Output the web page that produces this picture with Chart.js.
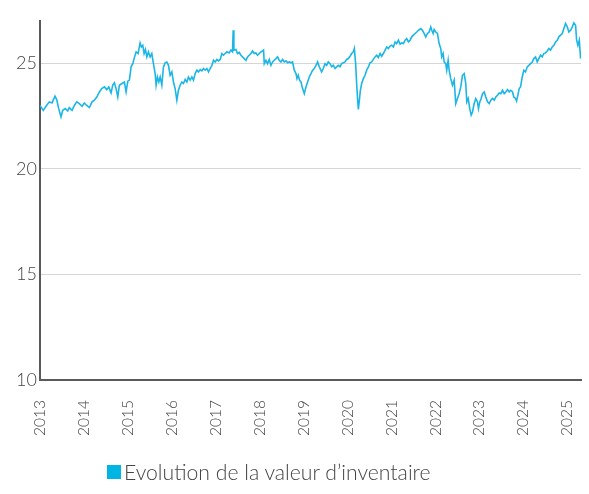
<!DOCTYPE html>
<html>
<head>
<meta charset="utf-8">
<script src="https://cdn.jsdelivr.net/npm/chart.js@4"></script>
<style>
  html, body { margin: 0; padding: 0; background: #fff; }
  #wrap { position: relative; width: 589px; height: 494px; }
  #legend {
    position: absolute; left: 107px; top: 461px;
    display: flex; align-items: center;
    font: 300 21.2px Lato, sans-serif; color: #444; line-height: 22px;
  }
  #legend .swatch { display: inline-block; width: 14px; height: 14px; margin-right: 3px; }
</style>
</head>
<body>
<div id="wrap">
  <canvas id="navChart" width="589" height="494"></canvas>
  <div id="legend"></div>
</div>
<script>
// dates en années décimales, une valeur d'inventaire par date
const dates = [
  2013.000, 2013.075, 2013.137, 2013.212, 2013.273, 2013.342, 2013.380, 2013.426, 2013.478, 2013.517,
  2013.576, 2013.631, 2013.667, 2013.729, 2013.781, 2013.836, 2013.895, 2013.957, 2014.009, 2014.064,
  2014.123, 2014.185, 2014.237, 2014.292, 2014.351, 2014.405, 2014.465, 2014.519, 2014.565, 2014.617,
  2014.656, 2014.693, 2014.731, 2014.770, 2014.806, 2014.868, 2014.920, 2014.959, 2014.998, 2015.034,
  2015.073, 2015.112, 2015.141, 2015.187, 2015.232, 2015.278, 2015.308, 2015.339, 2015.369, 2015.399,
  2015.431, 2015.467, 2015.506, 2015.544, 2015.581, 2015.620, 2015.642, 2015.672, 2015.704, 2015.734,
  2015.772, 2015.809, 2015.848, 2015.886, 2015.923, 2015.961, 2016.000, 2016.037, 2016.075, 2016.114,
  2016.150, 2016.189, 2016.228, 2016.264, 2016.303, 2016.342, 2016.378, 2016.417, 2016.456, 2016.492,
  2016.531, 2016.570, 2016.606, 2016.645, 2016.683, 2016.720, 2016.759, 2016.797, 2016.834, 2016.872,
  2016.911, 2016.948, 2016.986, 2017.025, 2017.062, 2017.100, 2017.139, 2017.175, 2017.214, 2017.253,
  2017.305, 2017.344, 2017.380, 2017.396, 2017.412, 2017.458, 2017.494, 2017.533, 2017.572, 2017.608,
  2017.647, 2017.686, 2017.722, 2017.761, 2017.800, 2017.836, 2017.875, 2017.913, 2017.950, 2017.989,
  2018.027, 2018.064, 2018.087, 2018.103, 2018.141, 2018.178, 2018.217, 2018.255, 2018.292, 2018.330,
  2018.369, 2018.406, 2018.444, 2018.483, 2018.520, 2018.558, 2018.597, 2018.634, 2018.672, 2018.711,
  2018.747, 2018.786, 2018.825, 2018.848, 2018.877, 2018.907, 2018.939, 2018.975, 2019.014, 2019.052,
  2019.089, 2019.128, 2019.166, 2019.203, 2019.241, 2019.280, 2019.317, 2019.355, 2019.408, 2019.446,
  2019.485, 2019.522, 2019.560, 2019.599, 2019.636, 2019.674, 2019.713, 2019.750, 2019.788, 2019.827,
  2019.864, 2019.902, 2019.941, 2019.977, 2020.016, 2020.055, 2020.091, 2020.130, 2020.153, 2020.182,
  2020.205, 2020.228, 2020.244, 2020.267, 2020.290, 2020.319, 2020.358, 2020.396, 2020.433, 2020.472,
  2020.510, 2020.547, 2020.585, 2020.624, 2020.661, 2020.699, 2020.738, 2020.775, 2020.813, 2020.852,
  2020.889, 2020.927, 2020.966, 2021.003, 2021.041, 2021.080, 2021.116, 2021.155, 2021.194, 2021.230,
  2021.269, 2021.308, 2021.344, 2021.383, 2021.421, 2021.458, 2021.497, 2021.535, 2021.572, 2021.610,
  2021.663, 2021.702, 2021.740, 2021.777, 2021.816, 2021.854, 2021.891, 2021.914, 2021.945, 2021.968,
  2022.005, 2022.043, 2022.082, 2022.118, 2022.141, 2022.173, 2022.196, 2022.232, 2022.255, 2022.287,
  2022.310, 2022.346, 2022.385, 2022.424, 2022.460, 2022.499, 2022.538, 2022.574, 2022.613, 2022.652,
  2022.688, 2022.711, 2022.743, 2022.779, 2022.811, 2022.841, 2022.879, 2022.916, 2022.954, 2022.977,
  2023.007, 2023.039, 2023.069, 2023.107, 2023.144, 2023.183, 2023.221, 2023.258, 2023.296, 2023.335,
  2023.371, 2023.410, 2023.449, 2023.485, 2023.524, 2023.563, 2023.599, 2023.638, 2023.676, 2023.713,
  2023.752, 2023.781, 2023.820, 2023.843, 2023.873, 2023.904, 2023.934, 2023.973, 2024.009, 2024.048,
  2024.087, 2024.123, 2024.162, 2024.201, 2024.237, 2024.276, 2024.314, 2024.351, 2024.390, 2024.428,
  2024.465, 2024.503, 2024.542, 2024.579, 2024.617, 2024.656, 2024.693, 2024.731, 2024.770, 2024.806,
  2024.845, 2024.884, 2024.920, 2024.959, 2024.998, 2025.034, 2025.073, 2025.112, 2025.148, 2025.187,
  2025.210, 2025.239, 2025.271, 2025.301
];

const nav = [
  23.00, 22.77, 22.96, 23.17, 23.12, 23.44, 23.28, 22.85, 22.46, 22.77,
  22.85, 22.74, 22.90, 22.77, 23.00, 23.17, 23.09, 22.96, 23.12, 23.00,
  22.90, 23.17, 23.25, 23.40, 23.64, 23.80, 23.88, 23.75, 23.88, 23.59,
  23.96, 24.07, 23.80, 23.40, 23.96, 24.04, 24.11, 23.64, 24.15, 24.20,
  24.83, 24.98, 25.22, 25.54, 25.46, 25.96, 25.77, 25.85, 25.46, 25.65,
  25.30, 25.54, 25.30, 25.46, 24.98, 24.51, 23.96, 24.35, 24.11, 24.35,
  23.96, 24.83, 25.02, 25.06, 24.90, 24.43, 24.59, 24.11, 23.80, 23.25,
  23.72, 23.96, 24.11, 24.04, 24.23, 24.11, 24.35, 24.20, 24.35, 24.20,
  24.51, 24.67, 24.59, 24.70, 24.64, 24.75, 24.67, 24.75, 24.59, 24.75,
  24.90, 25.14, 25.06, 25.18, 25.11, 25.18, 25.46, 25.38, 25.46, 25.54,
  25.49, 25.62, 25.54, 26.56, 25.62, 25.65, 25.46, 25.51, 25.38, 25.30,
  25.22, 25.14, 25.30, 25.38, 25.46, 25.58, 25.46, 25.49, 25.38, 25.46,
  25.54, 25.58, 25.62, 24.98, 25.14, 24.98, 25.18, 24.90, 25.06, 25.14,
  25.22, 25.30, 25.14, 25.06, 25.18, 25.06, 25.11, 25.02, 25.06, 25.02,
  25.06, 24.67, 24.51, 24.27, 24.43, 24.20, 24.11, 23.80, 23.56, 23.88,
  24.11, 24.35, 24.51, 24.67, 24.75, 24.90, 25.06, 24.83, 24.59, 24.75,
  24.98, 24.90, 25.06, 24.98, 24.83, 24.90, 24.75, 24.83, 24.90, 24.83,
  24.98, 25.02, 25.06, 25.18, 25.22, 25.33, 25.46, 25.54, 25.70, 24.98,
  24.04, 23.25, 22.81, 23.25, 23.72, 24.04, 24.27, 24.43, 24.67, 24.83,
  25.02, 25.06, 25.18, 25.30, 25.38, 25.27, 25.46, 25.33, 25.46, 25.62,
  25.77, 25.70, 25.81, 25.85, 25.77, 26.01, 25.93, 26.09, 25.90, 25.96,
  25.93, 26.09, 26.17, 26.01, 26.09, 26.25, 26.33, 26.41, 26.48, 26.56,
  26.64, 26.56, 26.41, 26.25, 26.41, 26.48, 26.72, 26.56, 26.41, 26.60,
  26.48, 26.41, 25.93, 25.70, 25.30, 25.46, 25.06, 24.98, 24.67, 25.14,
  24.67, 24.27, 23.96, 24.20, 23.09, 23.33, 23.56, 23.88, 24.43, 24.51,
  24.04, 23.17, 23.33, 22.85, 22.54, 22.69, 23.09, 23.33, 23.17, 22.85,
  23.17, 23.33, 23.56, 23.64, 23.40, 23.17, 23.09, 23.25, 23.33, 23.25,
  23.40, 23.48, 23.59, 23.56, 23.72, 23.56, 23.64, 23.75, 23.64, 23.72,
  23.64, 23.40, 23.33, 23.21, 23.48, 23.80, 23.88, 24.35, 24.67, 24.59,
  24.83, 24.90, 24.98, 25.06, 25.22, 25.30, 25.06, 25.22, 25.38, 25.30,
  25.46, 25.49, 25.58, 25.70, 25.62, 25.77, 25.85, 26.01, 26.09, 26.25,
  26.33, 26.41, 26.64, 26.88, 26.72, 26.48, 26.56, 26.72, 26.91, 26.80,
  26.09, 25.85, 26.09, 25.22
];

const seriesLabel = 'Evolution de la valeur d’inventaire';
const xRange = [2013, 2025.31];
const yRange = [10, 27];
const yStep = 5;

const lineColor = '#1bb6e6';
const axisColor = '#5a5a5a';
const textColor = '#444';
const fontFamily = 'Lato, "Open Sans", sans-serif';

const points = dates.map((d, i) => ({ x: d, y: nav[i] }));

const ctx = document.getElementById('navChart').getContext('2d');
const navChart = new Chart(ctx, {
  type: 'line',
  data: {
    datasets: [{
      label: seriesLabel,
      data: points,
      borderColor: lineColor,
      backgroundColor: '#00b4e4',
      borderWidth: 1.6,
      pointRadius: 0,
      tension: 0
    }]
  },
  options: {
    responsive: false,
    animation: false,
    layout: { padding: { top: 21, right: 8, bottom: 54, left: 0 } },
    scales: {
      x: {
        type: 'linear',
        min: xRange[0],
        max: xRange[1],
        grid: { color: 'transparent', drawTicks: false },
        border: { color: axisColor, width: 2 },
        ticks: {
          stepSize: 1,
          includeBounds: false,
          autoSkip: false,
          minRotation: 90,
          maxRotation: 90,
          padding: 20,
          color: textColor,
          font: { family: fontFamily, size: 15.5, weight: 300 },
          callback: (v) => String(v)
        },
        afterFit: (s) => {
          s.height = 60;
          s.paddingLeft = 0;
          s.paddingRight = 0;
        }
      },
      y: {
        min: yRange[0],
        max: yRange[1],
        grid: { color: '#d6d6d6', lineWidth: 1, drawTicks: false },
        border: { color: axisColor, width: 2 },
        ticks: {
          stepSize: yStep,
          includeBounds: false,
          padding: 3,
          color: textColor,
          font: { family: fontFamily, size: 18, weight: 300 }
        },
        afterFit: (s) => { s.width = 40; }
      }
    },
    plugins: {
      legend: { display: false },
      tooltip: { enabled: false }
    }
  }
});

// légende HTML sous le graphique
function renderLegend(chart) {
  const box = document.getElementById('legend');
  chart.data.datasets.forEach((ds) => {
    const sw = document.createElement('span');
    sw.className = 'swatch';
    sw.style.background = ds.backgroundColor;
    box.appendChild(sw);
    box.appendChild(document.createTextNode(ds.label));
  });
}
renderLegend(navChart);
</script>
</body>
</html>
